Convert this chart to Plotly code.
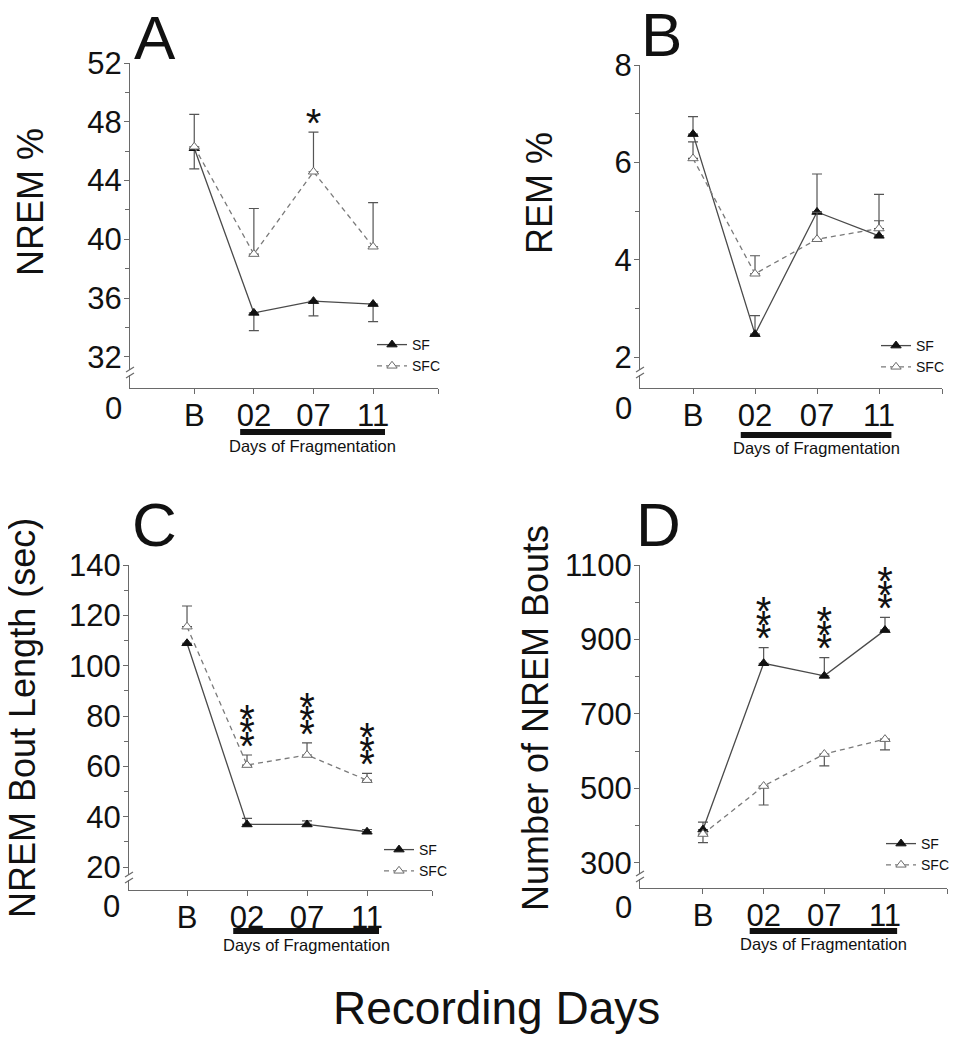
import plotly.graph_objects as go

# page offset of the plot div (default body margin) and figure size
OFF = 8
W, H = 964 - 2 * OFF, 1050 - 2 * OFF
FONT = "Liberation Sans, Arial, sans-serif"

days = ["B", "02", "07", "11"]
day_pos = [1, 2, 3, 4]

# A - NREM %
nrem_sf = [46.2, 35.0, 35.8, 35.6]
nrem_sf_err = [1.4, 1.2, 1.0, 1.2]
nrem_sfc = [46.3, 39.0, 44.6, 39.5]
nrem_sfc_err = [2.2, 3.1, 2.7, 3.0]
nrem_stars = [0, 0, 1, 0]

# B - REM %
rem_sf = [6.58, 2.47, 4.98, 4.49]
rem_sf_err = [0.36, 0.38, 0.78, 0.31]
rem_sfc = [6.08, 3.71, 4.42, 4.64]
rem_sfc_err = [0.34, 0.37, 0.55, 0.70]
rem_stars = [0, 0, 0, 0]

# C - NREM bout length (sec)
bout_len_sf = [108.9, 36.9, 36.9, 34.0]
bout_len_sf_err = [0, 2.4, 1.4, 0.9]
bout_len_sfc = [115.5, 60.5, 64.5, 54.5]
bout_len_sfc_err = [8.2, 4.0, 4.8, 2.7]
bout_len_stars = [0, 3, 3, 3]

# D - number of NREM bouts
bouts_sf = [389, 836, 802, 925]
bouts_sf_err = [20, 42, 49, 34]
bouts_sfc = [377, 506, 592, 632]
bouts_sfc_err = [23, 51, 32, 29]
bouts_stars = [0, 3, 3, 3]


def px(x):
    return (x - OFF) / W


def py(y):
    return 1 - (y - OFF) / H


# layout of each panel in page pixels: left, right, top tick, x-axis line
panels = [
    dict(letter="A", title="NREM %", box=(130, 438, 63, 388), yr=(29.89, 52),
         xr=(-0.078, 5.089), yt=[32, 36, 40, 44, 48, 52], ym=[34, 38, 42, 46, 50],
         sf=(nrem_sf, nrem_sf_err, "down"), sfc=(nrem_sfc, nrem_sfc_err, "up"),
         stars=(nrem_stars, "sfc"), let_xy=(155, 38), tit_xy=(31, 202),
         zero_xy=(113, 408), leg_xy=(372, 329), bar_y=432, txt_y=446, brk_y=373),
    dict(letter="B", title="REM %", box=(640, 942, 65, 388), yr=(1.363, 8),
         xr=(0.145, 5.016), yt=[2, 4, 6, 8], ym=[3, 5, 7],
         sf=(rem_sf, rem_sf_err, "up"), sfc=(rem_sfc, rem_sfc_err, "up"),
         stars=(rem_stars, "sfc"), let_xy=(661, 35), tit_xy=(540, 193),
         zero_xy=(623, 408), leg_xy=(876, 330), bar_y=435, txt_y=448, brk_y=373),
    dict(letter="C", title="NREM Bout Length (sec)", box=(129, 432, 565, 890), yr=(10.86, 140),
         xr=(0.033, 5.083), yt=[20, 40, 60, 80, 100, 120, 140], ym=[30, 50, 70, 90, 110, 130],
         sf=(bout_len_sf, bout_len_sf_err, "up"), sfc=(bout_len_sfc, bout_len_sfc_err, "up"),
         stars=(bout_len_stars, "sfc"), let_xy=(154, 524), tit_xy=(22, 718),
         zero_xy=(111, 906), leg_xy=(379, 834), bar_y=931, txt_y=945, brk_y=878),
    dict(letter="D", title="Number of NREM Bouts", box=(640, 947, 565, 888), yr=(232, 1100),
         xr=(-0.038, 5.022), yt=[300, 500, 700, 900, 1100], ym=[400, 600, 800, 1000],
         sf=(bouts_sf, bouts_sf_err, "up"), sfc=(bouts_sfc, bouts_sfc_err, "down"),
         stars=(bouts_stars, "sf"), let_xy=(658, 524), tit_xy=(535, 718),
         zero_xy=(623, 907), leg_xy=(881, 828), bar_y=931, txt_y=944, brk_y=877),
]

AXIS_COL = "#6a6a6a"
STAR_FONT = 40

fig = go.Figure()
annotations = []
shapes = []
layout = {}

for i, p in enumerate(panels):
    n = "" if i == 0 else str(i + 1)
    xa, ya = "x" + n, "y" + n
    leg = "legend" + n
    left, right, top, bottom = p["box"]

    for key, name in (("sf", "SF"), ("sfc", "SFC")):
        vals, err, side = p[key]
        zeros = [0] * len(err)
        filled = key == "sf"
        fig.add_trace(go.Scatter(
            x=day_pos, y=vals, name=name, xaxis=xa, yaxis=ya, legend=leg,
            mode="lines+markers", cliponaxis=False,
            line=dict(color="#4a4a4a" if filled else "#7a7a7a", width=1.3,
                      dash="solid" if filled else "5px,4px"),
            marker=dict(symbol="triangle-up", size=9,
                        color="#111111" if filled else "white",
                        line=dict(color="#111111" if filled else "#6a6a6a", width=1)),
            error_y=dict(type="data", symmetric=False,
                         array=err if side == "up" else zeros,
                         arrayminus=err if side == "down" else zeros,
                         color="#555555", thickness=1.2, width=5),
        ))

    # significance asterisks stacked above the error bar
    counts, which = p["stars"]
    vals, err, _ = p[which]
    ppu = (bottom - top) / (p["yr"][1] - p["yr"][0])
    sx, sy = [], []
    for j, c in enumerate(counts):
        for k in range(c):
            sx.append(day_pos[j])
            sy.append(vals[j] + err[j] + (14 - 0.22 * STAR_FONT + k * 13.5) / ppu)
    if sx:
        fig.add_trace(go.Scatter(
            x=sx, y=sy, xaxis=xa, yaxis=ya, mode="text", text=["*"] * len(sx),
            textposition="middle center", showlegend=False, cliponaxis=False,
            textfont=dict(family=FONT, size=STAR_FONT, color="#111111"),
        ))

    layout["xaxis" + n] = dict(
        domain=[px(left), px(right)], anchor=ya, range=list(p["xr"]),
        tickmode="array", tickvals=day_pos + [p["xr"][1]], ticktext=days + [""],
        showline=True, linecolor=AXIS_COL, linewidth=1.2, ticks="outside",
        ticklen=5, tickcolor=AXIS_COL, showgrid=False, zeroline=False,
        automargin=False, ticklabelstandoff=-5,
        tickfont=dict(family=FONT, size=31, color="#111111"),
    )
    layout["yaxis" + n] = dict(
        domain=[py(bottom), py(top)], anchor=xa, range=list(p["yr"]),
        tickmode="array", tickvals=p["yt"], showline=True, linecolor=AXIS_COL,
        linewidth=1.2, ticks="outside", ticklen=5, tickcolor=AXIS_COL,
        showgrid=False, zeroline=False, ticklabelstandoff=-4, automargin=False,
        tickfont=dict(family=FONT, size=31, color="#111111"),
        minor=dict(tickmode="array", tickvals=p["ym"], ticks="outside",
                   ticklen=4, tickcolor=AXIS_COL, showgrid=False),
    )
    layout[leg] = dict(
        x=px(p["leg_xy"][0]), y=py(p["leg_xy"][1]), xanchor="left", yanchor="top",
        bgcolor="rgba(0,0,0,0)", tracegroupgap=0, itemwidth=30,
        font=dict(family=FONT, size=14, color="#111111"),
    )

    annotations += [
        dict(text=p["letter"], x=px(p["let_xy"][0]), y=py(p["let_xy"][1]),
             xref="paper", yref="paper", showarrow=False, xanchor="center", yanchor="middle",
             font=dict(family=FONT, size=62, color="#111111")),
        dict(text=p["title"], x=px(p["tit_xy"][0]), y=py(p["tit_xy"][1]), textangle=-90,
             xref="paper", yref="paper", showarrow=False, xanchor="center", yanchor="middle",
             font=dict(family=FONT, size=36, color="#111111")),
        dict(text="0", x=px(p["zero_xy"][0]), y=py(p["zero_xy"][1]),
             xref="paper", yref="paper", showarrow=False, xanchor="center", yanchor="middle",
             font=dict(family=FONT, size=31, color="#111111")),
        dict(text="Days of Fragmentation", x=(1.77 + 4.2) / 2, y=py(p["txt_y"]),
             xref=xa, yref="paper", showarrow=False, xanchor="center", yanchor="middle",
             font=dict(family=FONT, size=16.5, color="#111111")),
    ]

    # black bar marking the fragmentation days
    shapes.append(dict(type="line", xref=xa, yref="paper", x0=1.77, x1=4.2,
                       y0=py(p["bar_y"]), y1=py(p["bar_y"]),
                       line=dict(color="#111111", width=6)))
    # axis break on the y axis
    b = p["brk_y"]
    shapes.append(dict(type="rect", xref="paper", yref="paper", x0=px(left - 3), x1=px(left + 3),
                       y0=py(b + 2), y1=py(b - 3), fillcolor="white", line=dict(width=0)))
    for off in (-3, 3):
        shapes.append(dict(type="line", xref="paper", yref="paper",
                           x0=px(left - 4), x1=px(left + 4),
                           y0=py(b + off + 2), y1=py(b + off - 3),
                           line=dict(color=AXIS_COL, width=1.2)))

annotations.append(dict(text="Recording Days", x=px(496), y=py(1008), xref="paper", yref="paper",
                        showarrow=False, xanchor="center", yanchor="middle",
                        font=dict(family=FONT, size=46, color="#111111")))

fig.update_layout(
    width=W, height=H, autosize=False,
    margin=dict(l=0, r=0, t=0, b=0, autoexpand=False),
    paper_bgcolor="white", plot_bgcolor="white",
    font=dict(family=FONT, color="#111111"),
    annotations=annotations, shapes=shapes,
    **layout,
)

fig.write_html("out.html")
